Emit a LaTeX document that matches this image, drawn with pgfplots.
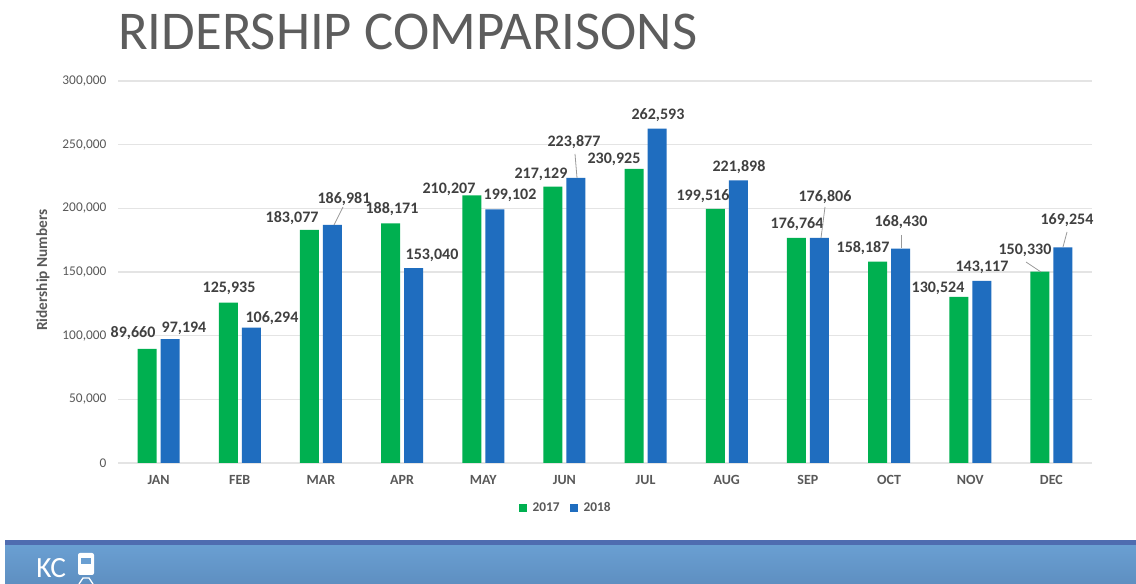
\documentclass[border=0pt]{standalone}
\usepackage{fontspec}
\setmainfont{Carlito}
\usepackage{pgfplots}
\pgfplotsset{compat=1.18}
\definecolor{green17}{HTML}{00B050}
\definecolor{blue18}{HTML}{1F6DBF}
\definecolor{txt}{HTML}{595959}
\definecolor{lab}{HTML}{404040}
\definecolor{gridc}{HTML}{E4E4E4}
\definecolor{bandtop}{HTML}{6A9FD2}
\definecolor{bandbot}{HTML}{5E8FC1}
\definecolor{bandline}{HTML}{4F6CB0}

\pgfplotstableread{
x y
0 89660
1 125935
2 183077
3 188171
4 210207
5 217129
6 230925
7 199516
8 176764
9 158187
10 130524
11 150330
}\ridersA
\pgfplotstableread{
x y
0 97194
1 106294
2 186981
3 153040
4 199102
5 223877
6 262593
7 221898
8 176806
9 168430
10 143117
11 169254
}\ridersB
% where the value labels sit, in axis units
\pgfplotstableread{
lx ly txt
-0.315 102100 89,660
0.868 137400 125,935
1.645 192400 183,077
2.876 199500 188,171
3.578 215200 210,207
4.711 227000 217,129
5.611 238700 230,925
6.707 209700 199,516
7.866 187700 176,764
8.679 168800 158,187
9.603 137400 130,524
10.674 167300 150,330
0.313 106000 97,194
1.397 113900 106,294
2.284 207300 186,981
3.369 163400 153,040
4.330 210500 199,102
5.118 252100 223,877
6.153 273300 262,593
7.151 232500 221,898
8.210 208900 176,806
9.147 189300 168,430
10.145 153900 143,117
11.192 190800 169,254
}\labelpos

\begin{document}
\begin{tikzpicture}[x=0.75pt,y=-0.75pt]
\useasboundingbox (0,0) rectangle (1136,584);
\fill[white] (0,0) rectangle (1136,584);
% footer
\fill[top color=bandtop,bottom color=bandbot,draw=none] (5,545) rectangle (1136,584);
\fill[color=bandline] (5,540) rectangle (1136,545);
\node[anchor=base west,text=white,font=\fontsize{22}{22}\selectfont,inner sep=0pt] at (36,578) {KC};
\fill[white,rounded corners=1.5pt] (78,553) rectangle (94,575);
\fill[color=bandtop] (81,558) rectangle (91,564);
\draw[white,line width=1pt] (79,584) -- (83,578) -- (89,578) -- (93,584);
% title
\node[anchor=base west,text=lab!85,inner sep=0pt,font=\fontsize{41}{41}\selectfont] at (118,50) {RIDERSHIP COMPARISONS};
\begin{axis}[
  at={(88.5pt,-347.25pt)},anchor=south west,
  scale only axis,width=730.5pt,height=286.5pt,
  xmin=-0.5,xmax=11.5,ymin=0,ymax=300000,
  xtick={0,...,11},
  xticklabels={JAN,FEB,MAR,APR,MAY,JUN,JUL,AUG,SEP,OCT,NOV,DEC},
  ytick={0,50000,...,300000},
  scaled y ticks=false,
  /pgf/number format/.cd,fixed,precision=0,1000 sep={,},assume math mode=true,/pgfplots/.cd,
  tick style={draw=none},
  axis line style={draw=none},
  axis x line*=bottom,axis y line*=left,
  ymajorgrids,grid style={gridc,line width=1pt},
  xticklabel style={font=\fontsize{10.5}{11}\selectfont\bfseries,text=txt,yshift=-5.5pt},
  yticklabel style={font=\fontsize{10}{10}\selectfont,text=txt,xshift=-5.2pt},
  ylabel={Ridership Numbers},
  ylabel style={font=\fontsize{11.5}{12}\selectfont\bfseries,text=txt,at={(axis description cs:-0.077,0.505)},anchor=center},
  legend style={at={(0.46,-0.118)},anchor=center,draw=none,fill=none,legend columns=2,
    font=\fontsize{10}{10}\selectfont\bfseries,text=txt,
    /tikz/every even column/.append style={column sep=5.7pt},
    /tikz/every odd column/.append style={column sep=2pt}},
  legend image code/.code={\fill[#1] (0cm,-0.1cm) rectangle (0.22cm,0.12cm);},
]
\addplot[ybar,bar width=14.25pt,bar shift=-8.625pt,fill=green17,draw=none] table[x=x,y=y] {\ridersA};
\addlegendentry{2017}
\addplot[ybar,bar width=14.25pt,bar shift=8.625pt,fill=blue18,draw=none] table[x=x,y=y] {\ridersB};
\addlegendentry{2018}
\addplot[draw=none,forget plot,point meta=explicit symbolic,nodes near coords,
  every node near coord/.append style={anchor=center,inner sep=0pt,text=lab,
    font=\fontsize{12}{12}\selectfont\bfseries}]
  table[x=lx,y=ly,meta=txt] {\labelpos};
\end{axis}
% leader lines
\begin{scope}[draw=black!40,line width=0.6pt]
\draw (343,207) -- (334,225);
\draw (575,154) -- (577,178);
\draw (825,207) -- (821,238);
\draw (901,235) -- (901,248);
\draw (1026,262) -- (1041,272);
\draw (1067,232) -- (1063,247);
\end{scope}
\end{tikzpicture}
\end{document}
